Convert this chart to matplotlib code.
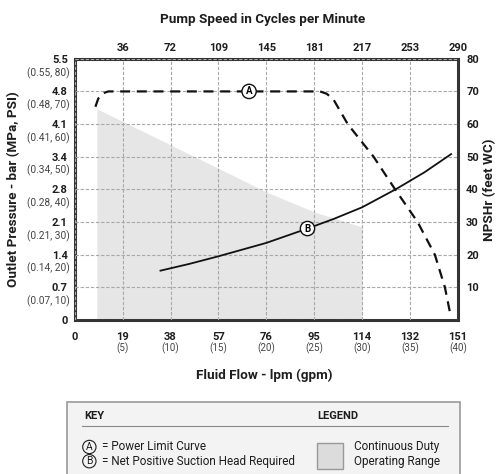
import matplotlib
matplotlib.use("Agg")
import matplotlib.pyplot as plt
import matplotlib.transforms as mtransforms
from matplotlib.patches import Rectangle
from matplotlib.lines import Line2D

plt.rcParams["font.family"] = ["Roboto", "DejaVu Sans"]

# axis ticks (x in gpm, y in psi)
flow_gpm = [0, 5, 10, 15, 20, 25, 30, 35, 40]
flow_lpm_labels = ["0", "19", "38", "57", "76", "95", "114", "132", "151"]
flow_gpm_labels = ["", "(5)", "(10)", "(15)", "(20)", "(25)", "(30)", "(35)", "(40)"]
cpm_gpm = [5, 10, 15, 20, 25, 30, 35, 40]
cpm_labels = ["36", "72", "109", "145", "181", "217", "253", "290"]
psi_ticks = [0, 10, 20, 30, 40, 50, 60, 70, 80]
bar_labels = ["0", "0.7", "1.4", "2.1", "2.8", "3.4", "4.1", "4.8", "5.5"]
mpa_psi_labels = ["", "(0.07, 10)", "(0.14, 20)", "(0.21, 30)", "(0.28, 40)",
                  "(0.34, 50)", "(0.41, 60)", "(0.48, 70)", "(0.55, 80)"]
npsh_ticks = [10, 20, 30, 40, 50, 60, 70, 80]
npsh_labels = ["10", "20", "30", "40", "50", "60", "70", "80"]

# curve A - power limit
power_gpm = [2.15, 2.45, 2.9, 3.5, 25.6, 26.3, 27.0, 28.5, 31.2, 33.45, 35.8, 37.6, 38.65, 39.2]
power_psi = [65.3, 67.8, 69.4, 70, 70, 69.3, 67.6, 60, 50, 40, 30, 20, 10, 2]

# curve B - NPSHr
npsh_gpm = [8.95, 12, 15, 20, 24.3, 27, 30, 33.5, 36.5, 39.3]
npsh_ft = [15.1, 17.2, 19.5, 23.6, 28.0, 30.9, 34.5, 40.0, 45.2, 50.8]

# continuous duty operating range
duty_gpm = [2.3, 16, 20, 25, 30]
duty_psi = [64.7, 45, 39.2, 33.1, 28.5]

dark = "#1e1e1e"
fig = plt.figure(figsize=(5.02, 4.74), dpi=100)
ax = fig.add_axes([0.149, 0.325, 0.763, 0.551])
ax.set_xlim(0, 40)
ax.set_ylim(0, 80)

ax.fill_between(duty_gpm, 0, duty_psi, color="#e6e6e6", lw=0, zorder=0.5)
ax.set_axisbelow(False)
ax.grid(True, color="#a8a8a8", linestyle=(0, (3, 1.6)), lw=0.8, zorder=1)

ax.plot(power_gpm, power_psi, color="#111111", lw=1.6, dashes=(4.5, 3), zorder=3)
ax.plot(npsh_gpm, npsh_ft, color="#111111", lw=1.3, zorder=3)

circ = dict(boxstyle="circle,pad=0.22", fc="white", ec="#111111", lw=1.0)
ax.text(18.2, 70, "A", ha="center", va="center", fontsize=7, fontweight="bold",
        bbox=circ, zorder=4)
ax.text(24.3, 28, "B", ha="center", va="center", fontsize=7, fontweight="bold",
        bbox=circ, zorder=4)

for s in ax.spines.values():
    s.set_linewidth(2.2)
    s.set_color("#333333")

ax.set_xticks(flow_gpm)
ax.set_xticklabels(flow_lpm_labels, fontweight="bold", fontsize=8, color=dark)
ax.set_yticks(psi_ticks)
ax.set_yticklabels(bar_labels, fontweight="bold", fontsize=8, color=dark)
ax.tick_params(axis="both", length=0)
ax.tick_params(axis="x", pad=9)
ax.tick_params(axis="y", pad=5)

xtr = mtransforms.blended_transform_factory(ax.transData, ax.transAxes)
for x, lab in zip(flow_gpm, flow_gpm_labels):
    ax.text(x, 0, lab, transform=xtr + mtransforms.ScaledTranslation(0, -28 / 100, fig.dpi_scale_trans),
            ha="center", va="center", fontsize=7, color="#444444")
ytr = mtransforms.blended_transform_factory(ax.transAxes, ax.transData)
for y, lab in zip(psi_ticks, mpa_psi_labels):
    ax.text(0, y, lab, transform=ytr + mtransforms.ScaledTranslation(-5 / 100, -14 / 100, fig.dpi_scale_trans),
            ha="right", va="center", fontsize=7.3, color="#444444")

top = ax.twiny()
top.set_xlim(0, 40)
top.set_xticks(cpm_gpm)
top.set_xticklabels(cpm_labels, fontweight="bold", fontsize=8, color=dark)
top.tick_params(length=0, pad=4)

right = ax.twinx()
right.set_ylim(0, 80)
right.set_yticks(npsh_ticks)
right.set_yticklabels(npsh_labels, fontweight="bold", fontsize=8, color=dark)
right.tick_params(length=0, pad=6)
for a in (top, right):
    for s in a.spines.values():
        s.set_visible(False)

fig.text(0.524, 0.958, "Pump Speed in Cycles per Minute", ha="center", va="center",
         fontsize=9.7, fontweight="bold", color=dark)
fig.text(0.526, 0.209, "Fluid Flow - lpm (gpm)", ha="center", va="center",
         fontsize=9.7, fontweight="bold", color=dark)
fig.text(0.026, 0.60, "Outlet Pressure - bar (MPa, PSI)", ha="center", va="center",
         rotation=90, fontsize=9.7, fontweight="bold", color=dark)
fig.text(0.976, 0.60, "NPSHr (feet WC)", ha="center", va="center",
         rotation=90, fontsize=9.7, fontweight="bold", color=dark)

# key / legend box
fig.patches.append(Rectangle((0.1335, -0.02), 0.783, 0.172, transform=fig.transFigure,
                             fc="#f3f3f3", ec="#999999", lw=1.2))
fig.lines.append(Line2D([0.163, 0.893], [0.101, 0.101], transform=fig.transFigure,
                        color="#888888", lw=0.8))
fig.text(0.167, 0.122, "KEY", ha="left", va="center", fontsize=8, fontweight="bold", color=dark)
fig.text(0.631, 0.122, "LEGEND", ha="left", va="center", fontsize=8, fontweight="bold", color=dark)
kcirc = dict(boxstyle="circle,pad=0.16", fc="none", ec=dark, lw=0.8)
fig.text(0.178, 0.057, "A", ha="center", va="center", fontsize=7.5, bbox=kcirc, color=dark)
fig.text(0.178, 0.027, "B", ha="center", va="center", fontsize=7.5, bbox=kcirc, color=dark)
fig.text(0.203, 0.057, "= Power Limit Curve", ha="left", va="center", fontsize=8.5, color=dark)
fig.text(0.203, 0.027, "= Net Positive Suction Head Required", ha="left", va="center",
         fontsize=8.5, color=dark)
fig.patches.append(Rectangle((0.631, 0.0105), 0.052, 0.055, transform=fig.transFigure,
                             fc="#dcdcdc", ec="#999999", lw=1.0))
fig.text(0.705, 0.057, "Continuous Duty", ha="left", va="center", fontsize=8.5, color=dark)
fig.text(0.705, 0.027, "Operating Range", ha="left", va="center", fontsize=8.5, color=dark)

fig.savefig("out.png", dpi=100)
